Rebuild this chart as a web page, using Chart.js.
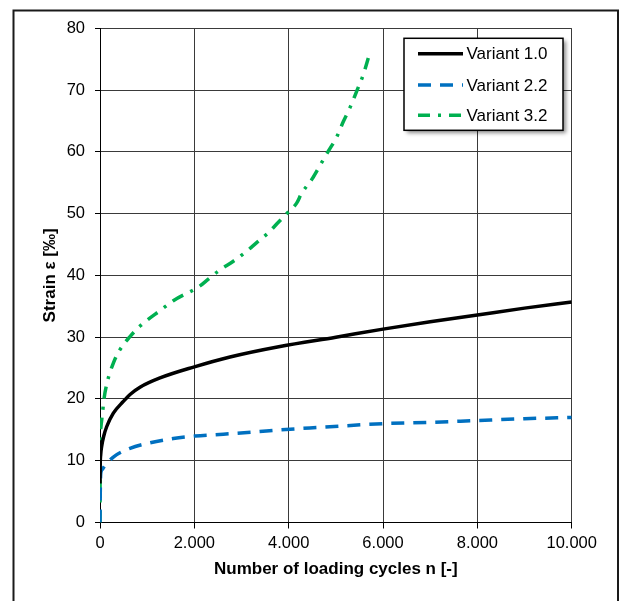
<!DOCTYPE html>
<html>
<head>
<meta charset="utf-8">
<script src="https://cdn.jsdelivr.net/npm/chart.js@4/dist/chart.umd.min.js"></script>
<style>
html,body{margin:0;padding:0;background:#fff;}
#wrap{position:relative;width:621px;height:601px;}
</style>
</head>
<body>
<div id="wrap"><canvas id="c" width="621" height="601"></canvas></div>
<script>
// ---- data ----
const seriesLabels = ["Variant 1.0", "Variant 2.2", "Variant 3.2"];

const v10Cycles = [0, 5, 15, 35, 80, 141, 283, 495, 650, 848, 1272, 2000, 2756, 3816, 5000, 6000, 7000, 8000, 9000, 10000];
const v10Strain = [6.3, 9.5, 11, 12.3, 14, 15.5, 17.7, 19.6, 20.8, 21.9, 23.4, 25.2, 26.8, 28.5, 30.0, 31.3, 32.5, 33.6, 34.7, 35.7];

const v22Cycles = [0, 10, 25, 50, 106, 283, 636, 1060, 1554, 2014, 2615, 3321, 3816, 4664, 6006, 7000, 7985, 9000, 10000];
const v22Strain = [0, 7, 8.3, 8.6, 9.2, 10.6, 12.0, 12.9, 13.6, 14.0, 14.3, 14.7, 15.0, 15.4, 16.0, 16.2, 16.5, 16.8, 17.0];

const v32Cycles = [0, 5, 20, 50, 85, 156, 283, 424, 636, 848, 1307, 1554, 2120, 2297, 2544, 2827, 3074, 3321, 3569, 3781, 3970, 4169, 4275, 4487, 4664, 4841, 5018, 5159, 5314, 5441, 5582, 5688];
const v32Strain = [0, 12, 15.5, 17.5, 20, 22.8, 25.8, 28, 30.1, 31.8, 34.5, 35.9, 38.3, 39.4, 40.9, 42.3, 43.7, 45.3, 46.9, 48.6, 50.1, 51.7, 53.3, 55.5, 57.8, 60.1, 62.4, 64.9, 67.4, 69.8, 72.5, 75.2];

const xTickStep = 2000, xMax = 10000;
const yTickStep = 10, yMax = 80;
const xTitle = "Number of loading cycles n [-]";
const yTitle = "Strain \u03B5 [\u2030]";

function pts(xs, ys){ return xs.map((x,i)=>({x:x, y:ys[i]})); }
function fmt(v){ return String(Math.round(v)).replace(/\B(?=(\d{3})+(?!\d))/g, "."); }

const FONT = "'Liberation Sans', Arial, sans-serif";

const framePlugin = {
  id: 'frame',
  beforeDraw(chart){
    const ctx = chart.ctx;
    ctx.save();
    ctx.fillStyle = '#fff';
    ctx.fillRect(0,0,chart.width,chart.height);
    ctx.strokeStyle = '#1a1a1a';
    ctx.lineWidth = 2;
    ctx.strokeRect(13.5, 10.5, 604.5, 620);
    ctx.restore();
  }
};

const legendPlugin = {
  id: 'boxLegend',
  afterDraw(chart){
    const ctx = chart.ctx;
    const ca = chart.chartArea;
    const bx = ca.left + 304, by = ca.top + 10, bw = 159, bh = 92;
    ctx.save();
    ctx.shadowColor = 'rgba(0,0,0,0.45)';
    ctx.shadowOffsetX = 3; ctx.shadowOffsetY = 3; ctx.shadowBlur = 4;
    ctx.fillStyle = '#fff';
    ctx.fillRect(bx, by, bw, bh);
    ctx.restore();
    ctx.save();
    ctx.strokeStyle = '#000'; ctx.lineWidth = 1.5;
    ctx.strokeRect(bx, by, bw, bh);
    const rows = [15.5, 46.7, 77];
    chart.data.datasets.forEach((ds, i) => {
      const y = by + rows[i];
      ctx.beginPath();
      ctx.setLineDash(ds.borderDash || []);
      ctx.lineDashOffset = 0;
      ctx.strokeStyle = ds.borderColor;
      ctx.lineWidth = ds.borderWidth;
      ctx.lineCap = 'butt';
      ctx.moveTo(bx + 14, y);
      ctx.lineTo(bx + 59, y);
      ctx.stroke();
      ctx.setLineDash([]);
      ctx.fillStyle = '#000';
      ctx.font = "17px " + FONT;
      ctx.textBaseline = 'middle';
      ctx.textAlign = 'left';
      ctx.fillText(ds.label, bx + 62.5, y + 1);
    });
    ctx.restore();
  }
};

new Chart(document.getElementById('c'), {
  type: 'line',
  data: {
    datasets: [
      { label: seriesLabels[0], data: pts(v10Cycles, v10Strain), borderColor: '#000000', borderWidth: 3.5, borderDash: [], pointRadius: 0, cubicInterpolationMode: 'monotone', fill: false },
      { label: seriesLabels[1], data: pts(v22Cycles, v22Strain), borderColor: '#0070C0', borderWidth: 3.5, borderDash: [13, 9], pointRadius: 0, cubicInterpolationMode: 'monotone', fill: false },
      { label: seriesLabels[2], data: pts(v32Cycles, v32Strain), borderColor: '#00B050', borderWidth: 3.5, borderDash: [12, 8, 3, 8], pointRadius: 0, cubicInterpolationMode: 'monotone', fill: false }
    ]
  },
  options: {
    responsive: false,
    animation: false,
    devicePixelRatio: 1,
    layout: { padding: { left: 0, top: 28.3, right: 49.3, bottom: 0 } },
    plugins: { legend: { display: false }, tooltip: { enabled: false } },
    scales: {
      x: {
        type: 'linear', min: 0, max: xMax,
        ticks: { stepSize: xTickStep, color: '#000', font: { family: FONT, size: 16.5 }, padding: 5, maxRotation: 0, callback: v => fmt(v) },
        grid: { color: '#3a3a3a', lineWidth: 1, tickLength: 6, tickColor: '#000' },
        border: { color: '#000', width: 1 },
        title: { display: true, text: xTitle, color: '#000', font: { family: FONT, size: 17, weight: 'bold' }, padding: { top: 0, bottom: 21 } },
        afterFit(s){ s.height = 78.5; }
      },
      y: {
        type: 'linear', min: 0, max: yMax,
        ticks: { stepSize: yTickStep, color: '#000', font: { family: FONT, size: 16.5 }, padding: 10, callback: v => fmt(v) },
        grid: { color: '#3a3a3a', lineWidth: 1, tickLength: 5, tickColor: '#000' },
        border: { color: '#000', width: 1 },
        title: { display: true, text: yTitle, color: '#000', font: { family: FONT, size: 17, weight: 'bold' }, padding: { top: 40, bottom: 0 } },
        afterFit(s){ s.width = 100; }
      }
    }
  },
  plugins: [framePlugin, legendPlugin]
});
</script>
</body>
</html>
